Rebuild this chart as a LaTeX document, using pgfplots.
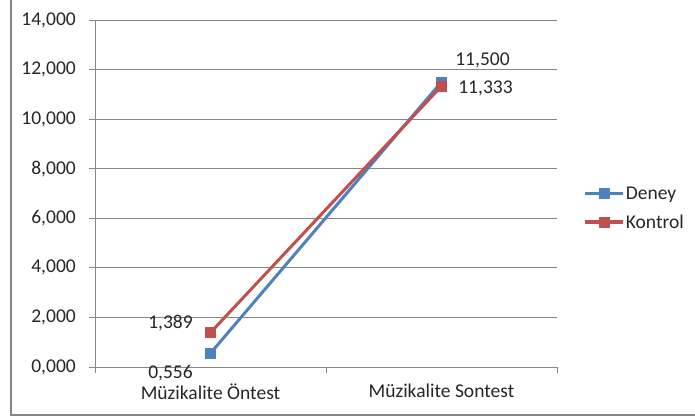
\documentclass[border=0pt]{standalone}
\usepackage{fontspec}
\setmainfont{Carlito}
\usepackage{pgfplots}
\usepackage{pgfplotstable}
\pgfplotsset{compat=1.18}

\definecolor{deney}{HTML}{4F81BD}
\definecolor{kontrol}{HTML}{C0504D}
\definecolor{axisgray}{HTML}{868686}
\newcommand\chartfont{\fontsize{19.6pt}{23pt}\selectfont}

% x: 0 = Öntest, 1 = Sontest; dx/dy shift the value labels (bp)
\pgfplotstableread{
x y dx dy
0 0.556 -40 -20
1 11.500 41 22
}\deney
\pgfplotstableread{
x y dx dy
0 1.389 -40 9
1 11.333 44 -2
}\kontrol

\begin{document}
\begin{tikzpicture}
\useasboundingbox (0,0) rectangle (695bp,418bp);
\draw[axisgray, line width=2bp] (10.5bp,418bp) -- (10.5bp,2.5bp) -- (695bp,2.5bp);
\begin{axis}[
    at={(95bp,51bp)}, anchor=south west,
    scale only axis, width=462bp, height=347bp,
    xmin=-0.5, xmax=1.5, ymin=0, ymax=14,
    axis lines*=left,
    axis line style={axisgray, line width=0.9bp},
    clip=false,
    xtick={0,1},
    xticklabels={Müzikalite Öntest, Müzikalite Sontest},
    major x tick style={draw=none},
    minor xtick={-0.5,0.5,1.5},
    ytick={0,2,...,14},
    tick align=outside,
    major tick length=6bp, minor tick length=6bp,
    tick style={axisgray, line width=0.9bp},
    ymajorgrids,
    grid style={axisgray, line width=0.9bp},
    /pgf/number format/assume math mode=true,
    yticklabel={\pgfmathprintnumber[fixed,fixed zerofill,precision=3,use comma,1000 sep={}]{\tick}},
    tick label style={font=\chartfont, text=black!85},
    yticklabel style={inner sep=0pt, xshift=-13bp},
    xticklabel style={inner sep=0pt, yshift=-11bp},
    nodes near coords={\pgfmathprintnumber[fixed,fixed zerofill,precision=3,use comma]{\pgfplotspointmeta}},
    visualization depends on={\thisrow{dx} \as \dx},
    visualization depends on={\thisrow{dy} \as \dy},
    every node near coord/.append style={anchor=center, font=\chartfont, text=black!85,
        xshift=\dx bp, yshift=\dy bp},
    legend style={draw=none, fill=none, font=\chartfont, text=black!85,
        at={(rel axis cs:1,0.458)}, anchor=west, xshift=26bp,
        row sep=11bp, inner sep=0pt, nodes={inner sep=1.5bp}},
    legend cell align=left,
    legend image code/.code={
        \draw[line width=3.2bp, mark repeat=2, mark phase=2]
            plot coordinates {(0bp,0bp) (19bp,0bp) (38bp,0bp)};},
]
\addplot[deney, line width=3bp, mark=square*, mark size=5bp, mark options={solid, line width=0.5bp}]
    table[x=x, y=y] {\deney};
\addlegendentry{Deney}
\addplot[kontrol, line width=3bp, mark=square*, mark size=5bp, mark options={solid, line width=0.5bp}]
    table[x=x, y=y] {\kontrol};
\addlegendentry{Kontrol}
\end{axis}
\end{tikzpicture}
\end{document}
